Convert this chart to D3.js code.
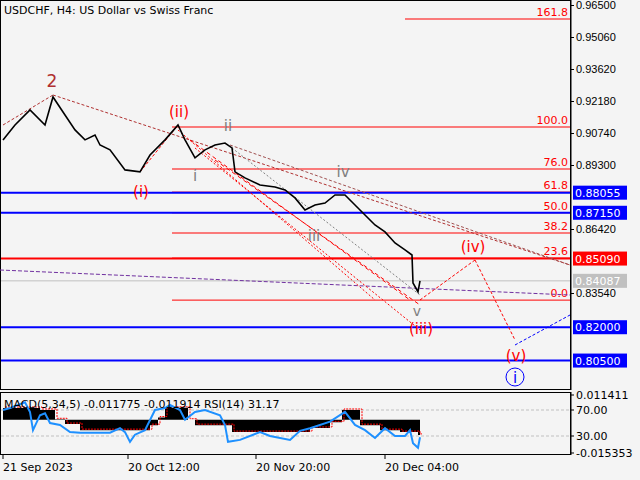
<!DOCTYPE html>
<html>
<head>
<meta charset="UTF-8">
<script src="https://d3js.org/d3.v7.min.js"></script>
<style>
  body { margin: 0; background: #f4f4f4; }
  svg { font-family: "DejaVu Sans", sans-serif; }
</style>
</head>
<body>
<svg id="c" width="640" height="480"></svg>
<script>
// price path: [x position in bars, close]
const priceX = [3,15,30,45,53,65,75,85,95,100,110,125,140,150,165,172,178,185,195,205,215,225,232,235,245,260,275,285,295,305,315,325,335,345,355,365,375,385,395,405,412,413,418,420];
const priceY = [0.9043,0.911,0.9178,0.911,0.9236,0.9155,0.9088,0.9043,0.9065,0.902,0.8998,0.8908,0.8899,0.8975,0.9043,0.9079,0.911,0.9043,0.8962,0.8998,0.902,0.9029,0.9007,0.8899,0.8872,0.884,0.8831,0.8818,0.8782,0.8728,0.875,0.8759,0.8795,0.8795,0.875,0.8705,0.866,0.8629,0.8579,0.8548,0.8525,0.8399,0.8359,0.8409];
const priceTicks = [0.965,0.9506,0.9362,0.9218,0.9074,0.893,0.8642,0.8354];
const blueLevels = [0.88055,0.8715,0.82,0.805];
const fibNames = ["161.8","100.0","76.0","61.8","50.0","38.2","23.6","0.0"];
const fibLevels = [0.9587,0.9101,0.8912,0.8808,0.8715,0.8624,0.8511,0.8322];
const dateLabels = ["21 Sep 2023","20 Oct 12:00","20 Nov 20:00","20 Dec 04:00"];
const dateX = [3,128,256,385];
const rsiX = [3,10,25,30,33,40,45,50,60,70,80,95,110,120,125,130,135,145,155,165,170,180,185,195,205,220,225,228,240,260,270,290,300,310,330,345,355,365,375,385,395,405,410,413,418,420];
const rsiV = [70,73,82,67,39,62,65,50,47,36,35,35,35,42,36,21,32,39,70,73,78,70,55,67,70,62,47,21,24,36,30,24,38,42,52,67,47,39,27,42,30,30,39,19,12,28];
const histX = [3,40,55,65,80,140,150,158,165,180,188,195,225,232,300,310,330,342,352,360,380,400,418,420];
const histV = [0.0054,0.0045,0.0002,-0.002,-0.0048,-0.0048,-0.0025,0.001,0.0055,0.0055,0.0,-0.0025,-0.0025,-0.0057,-0.0057,-0.0038,-0.0012,0.0045,0.0045,-0.0025,-0.0048,-0.0057,-0.007,-0.007];

const svg = d3.select("#c");
const x = d3.scaleLinear().domain([0, 640]).range([0, 640]);
const y = d3.scaleLinear().domain([0.965, 0.8354]).range([5, 293]);
const ry = d3.scaleLinear().domain([70, 30]).range([410, 436]);
const my = d3.scaleLinear().domain([0.011411, -0.015353]).range([395, 453]);

// panel frames
svg.append("rect").attr("x", 0.5).attr("y", 0.5).attr("width", 570).attr("height", 389).attr("fill", "#f4f4f4").attr("stroke", "#000");
svg.append("rect").attr("x", 0.5).attr("y", 392.5).attr("width", 570).attr("height", 62).attr("fill", "#f4f4f4").attr("stroke", "#000");

// right axis
const ax = svg.append("g").attr("transform", "translate(571,0)")
  .call(d3.axisRight(y).tickValues(priceTicks).tickFormat(d3.format(".5f")).tickSize(3).tickPadding(2));
ax.select(".domain").attr("d", "M0,0V390");
ax.selectAll("text").attr("font-size", 11).attr("fill", "#000");

// level lines
fibLevels.forEach((v, i) => {
  svg.append("line").attr("x1", i === 0 ? 405 : 172).attr("x2", 570).attr("y1", y(v)).attr("y2", y(v)).attr("stroke", "#ff0000");
  svg.append("text").attr("x", 568).attr("y", y(v) - 3).attr("text-anchor", "end").attr("font-size", 11).attr("fill", "#ff0000").text(fibNames[i]);
});
blueLevels.forEach(v => svg.append("line").attr("x1", 1).attr("x2", 570).attr("y1", y(v)).attr("y2", y(v)).attr("stroke", "#0000ff").attr("stroke-width", 2));
svg.append("line").attr("x1", 1).attr("x2", 570).attr("y1", y(0.8509)).attr("y2", y(0.8509)).attr("stroke", "#ff0000").attr("stroke-width", 2);
svg.append("line").attr("x1", 1).attr("x2", 570).attr("y1", y(0.84087)).attr("y2", y(0.84087)).attr("stroke", "#c0c0c0");

// dashed wave / trend lines
const dash = (x1, y1, x2, y2, c, d) => svg.append("line").attr("x1", x1).attr("y1", y1).attr("x2", x2).attr("y2", y2).attr("stroke", c).attr("stroke-dasharray", d || "3,2");
dash(3, 125, 53, 95, "#b03030");
dash(53, 95, 570, 265, "#b03030");
dash(230, 145, 570, 265, "#a05050");
dash(0, 270, 570, 295, "#7030a0", "4,2");
dash(140, 172, 178, 125, "#ff0000");
dash(178, 130, 375, 300, "#ff0000", "2,2");
dash(195, 148, 420, 330, "#ff0000", "2,2");
dash(190, 140, 410, 300, "#ff0000", "4,3");
dash(215, 160, 420, 305, "#ff0000", "4,3");
dash(232, 148, 420, 295, "#808080", "2,2");
dash(420, 300, 475, 260, "#ff0000");
dash(475, 260, 515, 340, "#ff0000");
dash(515, 345, 570, 315, "#0000ff");

// price
svg.append("path").datum(priceX.map((d, i) => [d, priceY[i]]))
  .attr("d", d3.line().x(d => x(d[0])).y(d => y(d[1])))
  .attr("fill", "none").attr("stroke", "#000").attr("stroke-width", 1.6);

// wave labels
const lab = (t, lx, ly, c, s) => svg.append("text").attr("x", lx).attr("y", ly).attr("text-anchor", "middle").attr("font-size", s || 15).attr("fill", c).text(t);
lab("2", 52, 87, "#b03030", 17);
lab("(i)", 141, 197, "#ff0000");
lab("(ii)", 179, 117, "#ff0000");
lab("i", 195, 181, "#808080");
lab("ii", 228, 131, "#808080");
lab("iii", 314, 241, "#808080");
lab("iv", 343, 177, "#808080");
lab("v", 417, 316, "#808080", 14);
lab("(iii)", 421, 334, "#ff0000");
lab("(iv)", 473, 252, "#ff0000");
lab("(v)", 516, 361, "#ff0000");
svg.append("circle").attr("cx", 515).attr("cy", 377).attr("r", 9).attr("fill", "none").attr("stroke", "#0000ff");
lab("i", 515, 383, "#0000ff");

// price labels
const tag = (v, bg, fg) => {
  svg.append("rect").attr("x", 573).attr("y", y(v) - 7).attr("width", 54).attr("height", 14).attr("fill", bg);
  svg.append("text").attr("x", 575).attr("y", y(v) + 4).attr("font-size", 11).attr("fill", fg).text(d3.format(".5f")(v));
};
tag(0.88055, "#0000ff", "#fff");
tag(0.8715, "#0000ff", "#fff");
tag(0.8509, "#ff0000", "#fff");
tag(0.84087, "#c0c0c0", "#fff");
tag(0.82, "#0000ff", "#fff");
tag(0.805, "#0000ff", "#fff");

svg.append("text").attr("x", 4).attr("y", 14).attr("font-size", 11).attr("fill", "#000").text("USDCHF, H4:  US Dollar vs Swiss Franc");

// sub panel
[70, 30].forEach(v => svg.append("line").attr("x1", 1).attr("x2", 570).attr("y1", ry(v)).attr("y2", ry(v)).attr("stroke", "#c0c0c0").attr("stroke-dasharray", "3,2"));
svg.append("path").datum(histX.map((d, i) => [d, histV[i]]))
  .attr("d", d3.area().x(d => x(d[0])).y0(my(0)).y1(d => my(d[1])).curve(d3.curveStepAfter))
  .attr("fill", "#000");
svg.append("path").datum(histX.map((d, i) => [d, histV[i]]))
  .attr("d", d3.line().x(d => x(d[0]) + 2).y(d => my(d[1]) - 1).curve(d3.curveStepAfter))
  .attr("fill", "none").attr("stroke", "#ff0000").attr("stroke-dasharray", "2,1");
svg.append("path").datum(rsiX.map((d, i) => [d, rsiV[i]]))
  .attr("d", d3.line().x(d => x(d[0])).y(d => ry(d[1])))
  .attr("fill", "none").attr("stroke", "#1e90ff").attr("stroke-width", 2);
svg.append("text").attr("x", 4).attr("y", 408).attr("font-size", 11).attr("fill", "#000").text("MACD(5,34,5) -0.011775 -0.011914 RSI(14) 31.17");

const sub = svg.append("g").attr("transform", "translate(571,0)");
sub.append("line").attr("y1", 392).attr("y2", 455).attr("stroke", "#000");
[[my(0.011411), "0.011411"], [ry(70), "70.00"], [ry(30), "30.00"], [my(-0.015353), "-0.015353"]].forEach(([py, t]) => {
  sub.append("line").attr("x2", 3).attr("y1", py).attr("y2", py).attr("stroke", "#000");
  sub.append("text").attr("x", 5).attr("y", py + 4).attr("font-size", 11).text(t);
});

// date axis
dateX.forEach((d, i) => {
  svg.append("line").attr("x1", x(d)).attr("x2", x(d)).attr("y1", 455).attr("y2", 459).attr("stroke", "#000");
  svg.append("text").attr("x", x(d)).attr("y", 471).attr("font-size", 11).text(dateLabels[i]);
});
</script>
</body>
</html>
